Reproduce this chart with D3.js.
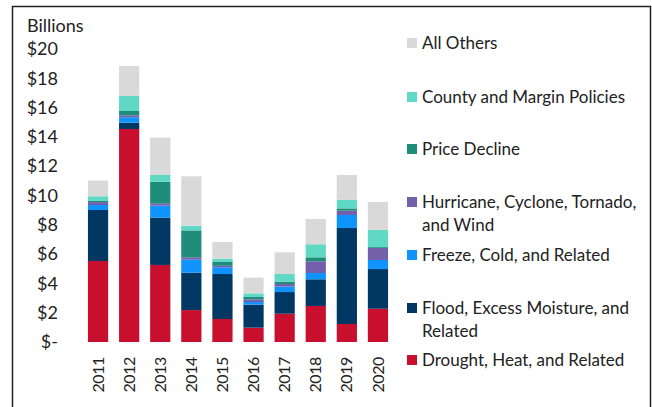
<!DOCTYPE html>
<html>
<head>
<meta charset="utf-8">
<script src="https://cdn.jsdelivr.net/npm/d3@7"></script>
<style>
  body { margin: 0; background: #fff; }
  svg { display: block; font-family: Lato, "Open Sans", sans-serif; }
</style>
</head>
<body>
<svg id="chart" width="652" height="407"></svg>
<script>
// ---- data (billions of dollars) ----
const years = ["2011", "2012", "2013", "2014", "2015", "2016", "2017", "2018", "2019", "2020"];
const seriesNames = [
  "Drought, Heat, and Related",
  "Flood, Excess Moisture, and Related",
  "Freeze, Cold, and Related",
  "Hurricane, Cyclone, Tornado, and Wind",
  "Price Decline",
  "County and Margin Policies",
  "All Others"
];
const drought   = [5.53, 14.54, 5.26, 2.18, 1.57, 0.98, 1.93, 2.46, 1.23, 2.27];
const flood     = [3.48, 0.43, 3.23, 2.55, 3.07, 1.57, 1.48, 1.82, 6.55, 2.71];
const freeze    = [0.34, 0.37, 0.82, 0.89, 0.46, 0.18, 0.37, 0.43, 0.89, 0.62];
const hurricane = [0.20, 0.13, 0.16, 0.16, 0.10, 0.18, 0.18, 0.80, 0.29, 0.82];
const price     = [0.08, 0.30, 1.47, 1.84, 0.26, 0.16, 0.16, 0.27, 0.16, 0.06];
const county    = [0.32, 1.03, 0.46, 0.32, 0.23, 0.25, 0.52, 0.89, 0.59, 1.17];
const others    = [1.07, 2.04, 2.55, 3.37, 1.14, 1.07, 1.48, 1.73, 1.69, 1.91];
const yTicks = [0, 2, 4, 6, 8, 10, 12, 14, 16, 18, 20];

const colors = ["#c8102e", "#003763", "#0f93fd", "#7360aa", "#208c7a", "#5fd9c3", "#d9d9d9"];
// legend lines, listed top to bottom
const legendLines = [
  ["All Others"],
  ["County and Margin Policies"],
  ["Price Decline"],
  ["Hurricane, Cyclone, Tornado,", "and Wind"],
  ["Freeze, Cold, and Related"],
  ["Flood, Excess Moisture, and", "Related"],
  ["Drought, Heat, and Related"]
];
const legendY = [43, 97, 149, 202, 255, 308, 360];

const svg = d3.select("#chart");

// frame
svg.append("path")
  .attr("d", "M12.5,407 V6.5 H650.5 V407")
  .attr("fill", "none")
  .attr("stroke", "#222")
  .attr("stroke-width", 1.5);

const rows = years.map((yr, i) => ({
  year: yr,
  [seriesNames[0]]: drought[i],
  [seriesNames[1]]: flood[i],
  [seriesNames[2]]: freeze[i],
  [seriesNames[3]]: hurricane[i],
  [seriesNames[4]]: price[i],
  [seriesNames[5]]: county[i],
  [seriesNames[6]]: others[i]
}));

const stacked = d3.stack().keys(seriesNames)(rows);

const x = d3.scaleBand().domain(years).range([82.5, 393.5]).paddingInner(0.35).paddingOuter(0.175);
const y = d3.scaleLinear().domain([0, 20]).range([342, 49]);

// bars
svg.append("g").selectAll("g")
  .data(stacked)
  .join("g")
  .attr("fill", (d, i) => colors[i])
  .selectAll("rect")
  .data(d => d)
  .join("rect")
  .attr("x", d => x(d.data.year))
  .attr("width", x.bandwidth())
  .attr("y", d => y(d[1]))
  .attr("height", d => y(d[0]) - y(d[1]));

// y axis labels
const yAxis = svg.append("g")
  .attr("transform", "translate(58,0)")
  .call(d3.axisLeft(y).tickValues(yTicks).tickSize(0).tickPadding(0)
    .tickFormat(d => d === 0 ? "$-" : "$" + d));
yAxis.select(".domain").remove();
yAxis.selectAll("text")
  .attr("font-family", "Lato, sans-serif")
  .attr("font-size", 18)
  .attr("fill", "#222");

svg.append("text")
  .attr("x", 27)
  .attr("y", 32)
  .attr("font-size", 18)
  .attr("fill", "#222")
  .text("Billions");

// x axis labels (rotated)
const xAxis = svg.append("g")
  .attr("transform", "translate(0,354)")
  .call(d3.axisBottom(x).tickSize(0).tickPadding(0));
xAxis.select(".domain").remove();
xAxis.selectAll("text")
  .attr("font-family", "Lato, sans-serif")
  .attr("font-size", 16)
  .attr("letter-spacing", -0.4)
  .attr("fill", "#222")
  .attr("transform", "rotate(-90)")
  .attr("text-anchor", "end")
  .attr("dy", "0.35em")
  .attr("x", -3)
  .attr("y", 0);

// legend
const legend = svg.append("g");
legendLines.forEach((lines, k) => {
  const idx = seriesNames.length - 1 - k;
  const g = legend.append("g").attr("transform", `translate(407,${legendY[k]})`);
  g.append("rect")
    .attr("x", 0).attr("y", -5)
    .attr("width", 10).attr("height", 10)
    .attr("fill", colors[idx]);
  lines.forEach((t, j) => {
    g.append("text")
      .attr("x", 15)
      .attr("y", j * 23)
      .attr("dy", "0.35em")
      .attr("font-size", 17)
      .attr("fill", "#222")
      .text(t);
  });
});
</script>
</body>
</html>
